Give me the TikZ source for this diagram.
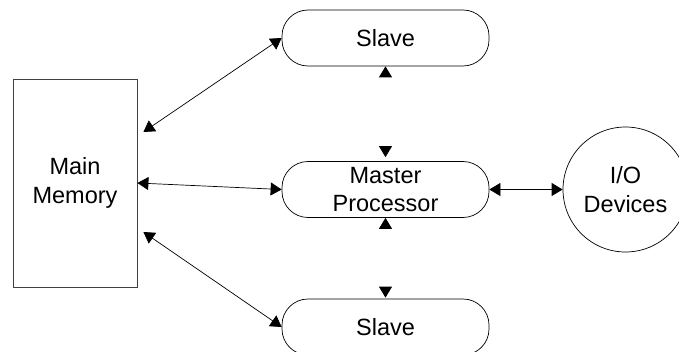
\documentclass[tikz,border=0pt]{standalone}
\usepackage{fontspec}
\setmainfont{Liberation Sans}
\usetikzlibrary{arrows.meta}
\begin{document}
\begin{tikzpicture}[x=1pt,y=1pt,
  every node/.style={font=\fontsize{23.5}{28.5}\selectfont, align=center, inner sep=0pt},
  box/.style={draw=black!75, line width=0.8pt, minimum width=124pt, minimum height=208pt},
  pill/.style={draw=black, line width=0.7pt, rounded corners=26pt, minimum width=207pt, minimum height=56pt},
  circ/.style={draw=black, line width=0.7pt, circle, minimum size=125pt},
  conn/.style={line width=0.7pt, {Triangle[length=11pt,width=13pt]}-{Triangle[length=11pt,width=13pt]}},
  ghost/.style={white, line width=0.7pt, {Triangle[length=11pt,width=13pt,color=black]}-{Triangle[length=11pt,width=13pt,color=black]}}
]
\useasboundingbox (0,0) rectangle (679,351);
\node[box] (mem) at (75,168) {Main\\Memory};
\node[pill] (s1) at (385.5,313) {Slave};
\node[pill] (mp) at (385.5,161.5) {Master\\Processor};
\node[pill] (s2) at (385.5,24) {Slave};
\node[circ] (io) at (625.5,161.5) {I/O\\Devices};
\draw[conn] ([shift={(6,51)}]mem.east) -- (s1.west);
\draw[conn] (mem.east) -- (mp.west);
\draw[conn] ([shift={(6,-49)}]mem.east) -- (s2.west);
\draw[conn] (mp.east) -- (io.west);
\draw[ghost, shorten >=4pt] (s1.south) -- (mp.north);
\draw[ghost, shorten >=1pt] (mp.south) -- (s2.north);
\end{tikzpicture}
\end{document}
